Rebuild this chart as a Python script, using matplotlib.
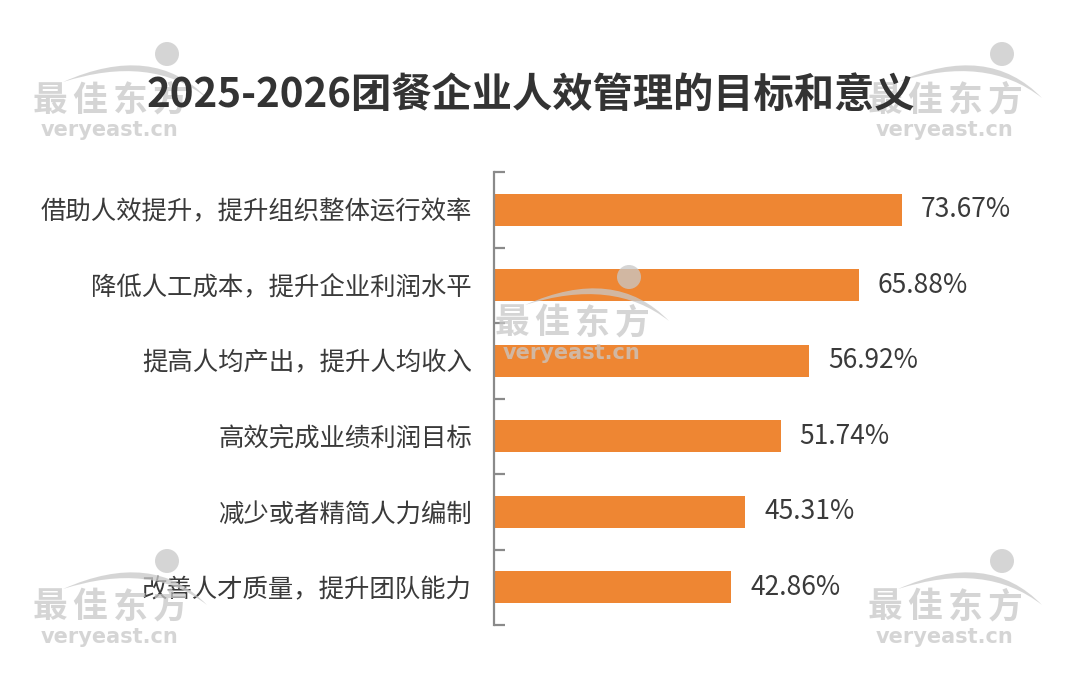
import matplotlib
matplotlib.use("Agg")
import matplotlib.pyplot as plt
from matplotlib.path import Path
from matplotlib.patches import PathPatch, Ellipse

plt.rcParams['font.family'] = ['Noto Sans CJK SC', 'DejaVu Sans']

title = "2025-2026团餐企业人效管理的目标和意义"
categories = [
    "借助人效提升，提升组织整体运行效率",
    "降低人工成本，提升企业利润水平",
    "提高人均产出，提升人均收入",
    "高效完成业绩利润目标",
    "减少或者精简人力编制",
    "改善人才质量，提升团队能力",
]
values = [73.67, 65.88, 56.92, 51.74, 45.31, 42.86]
value_labels = ["73.67%", "65.88%", "56.92%", "51.74%", "45.31%", "42.86%"]

W, H = 1080, 690
fig = plt.figure(figsize=(W / 100, H / 100), dpi=100)
fig.patch.set_facecolor('white')

left_px, right_px, top_px, bottom_px = 494, 1048, 172, 625
ax = fig.add_axes([left_px / W, 1 - bottom_px / H, (right_px - left_px) / W, (bottom_px - top_px) / H])

n = len(categories)
ypos = list(range(n))
ax.barh(ypos, values, height=0.42, color='#EE8633', zorder=2)
ax.set_xlim(0, 100)
ax.set_ylim(n - 0.5, -0.5)

for y, v, lab in zip(ypos, values, value_labels):
    ax.annotate(lab, (v, y), xytext=(19, 0), textcoords='offset pixels',
                va='center', ha='left', fontsize=19, color='#3a3a3a')

ax.set_yticks(ypos)
ax.set_yticklabels(categories, fontsize=18.3, color='#3a3a3a')
ax.tick_params(axis='y', which='major', length=0, pad=16)
ax.set_yticks([i - 0.5 for i in range(n + 1)], minor=True)
ax.tick_params(axis='y', which='minor', direction='in', length=8, width=1.6, color='#8a8a8a')
ax.set_xticks([])
for s in ['top', 'right', 'bottom']:
    ax.spines[s].set_visible(False)
ax.spines['left'].set_color('#8a8a8a')
ax.spines['left'].set_linewidth(1.6)
ax.set_facecolor('none')

fig.text(531 / W, 1 - 95 / H, title, ha='center', va='center', fontsize=29,
         fontweight='bold', color='#333333', zorder=5)


def topx(x, y):
    return (x / W, 1 - y / H)


wm_color = '#c8c8c8'
wm_alpha = 0.75


def watermark(x0, yc):
    verts = [topx(x0 + 30, yc - 18), topx(x0 + 120, yc - 58), topx(x0 + 174, yc - 2),
             topx(x0 + 118, yc - 46), topx(x0 + 30, yc - 18)]
    codes = [Path.MOVETO, Path.CURVE3, Path.CURVE3, Path.CURVE3, Path.CURVE3]
    p = PathPatch(Path(verts, codes), transform=fig.transFigure, facecolor=wm_color,
                  edgecolor='none', alpha=wm_alpha, zorder=4)
    fig.patches.append(p)
    e = Ellipse(topx(x0 + 134, yc - 46), width=24 / W, height=24 / H, transform=fig.transFigure,
                facecolor=wm_color, edgecolor='none', alpha=wm_alpha, zorder=4)
    fig.patches.append(e)
    for i, ch in enumerate("最佳东方"):
        fig.text(*topx(x0 + 17 + i * 40, yc), ch, ha='center', va='center', fontsize=25,
                 fontweight='bold', color=wm_color, alpha=wm_alpha, zorder=4)
    fig.text(*topx(x0 + 77, yc + 30), "veryeast.cn", ha='center', va='center', fontsize=15,
             fontweight='bold', color=wm_color, alpha=wm_alpha, zorder=4,
             family=['DejaVu Sans'])


watermark(33, 100)
watermark(868, 100)
watermark(495, 323)
watermark(33, 607)
watermark(868, 607)

fig.savefig('out.png', dpi=100)
